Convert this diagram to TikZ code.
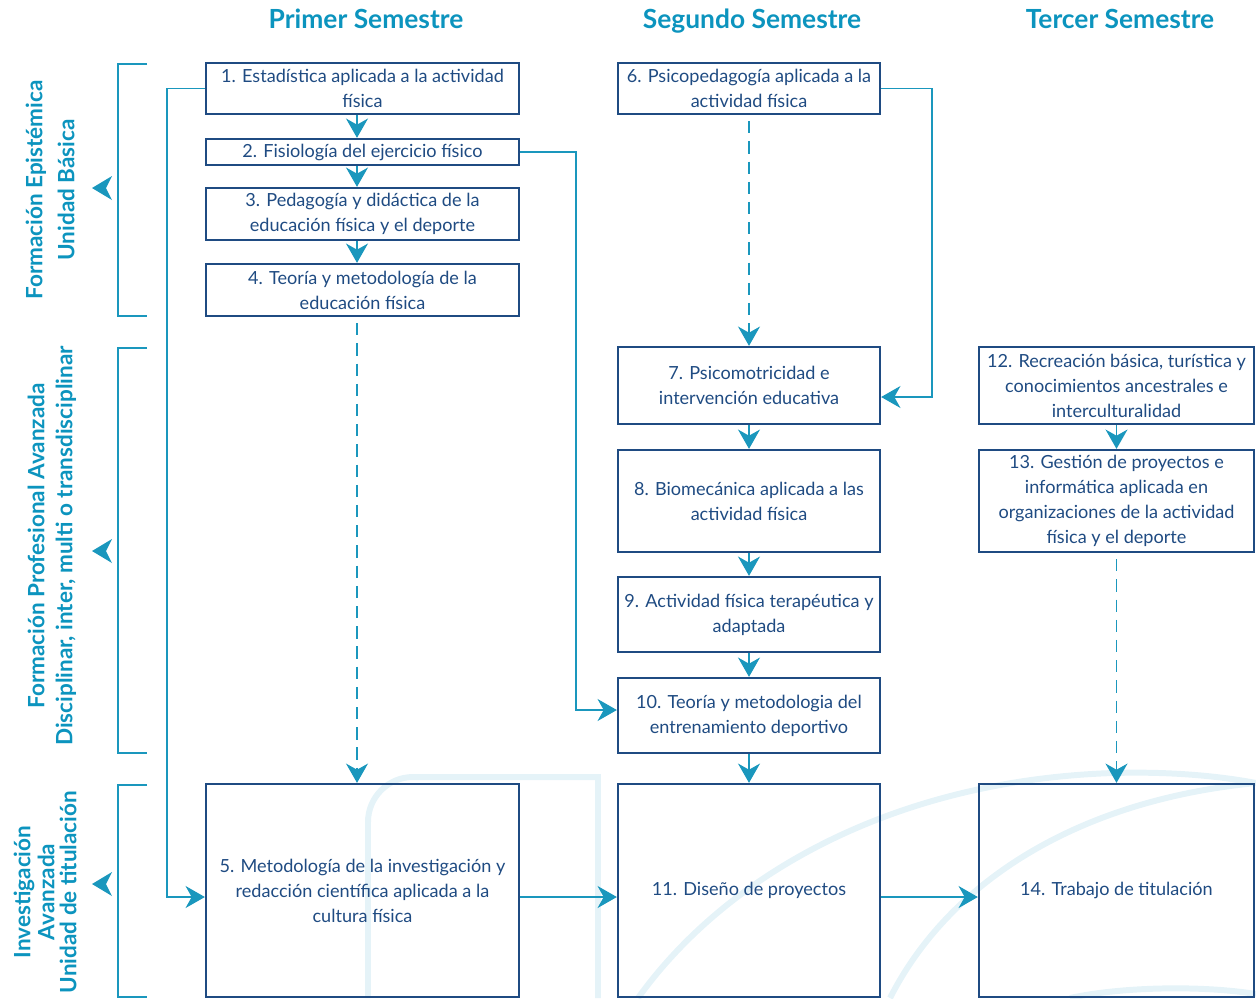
\documentclass[tikz,border=0pt]{standalone}
\usepackage{fontspec}
\setmainfont{Lato}
\usetikzlibrary{arrows.meta,calc}
\definecolor{navy}{HTML}{1F4B82}
\definecolor{tealc}{HTML}{1A97BD}
\definecolor{headc}{HTML}{0C94BE}
\definecolor{wmc}{HTML}{E5F3F8}
\begin{document}
\begin{tikzpicture}[x=0.02cm,y=-0.02cm,
  box/.style={draw=navy, line width=1.3pt, text=navy, align=center, inner sep=0pt,
    font=\fontsize{10.3}{14.2}\selectfont},
  conn/.style={draw=tealc, line width=0.9pt, -{Stealth[length=11pt,width=12.5pt,inset=3.5pt]}},
  dconn/.style={conn, dash pattern=on 7pt off 4.5pt},
  head/.style={text=headc, anchor=base, font=\bfseries\fontsize{15}{17}\selectfont},
  side/.style={text=headc, rotate=90, inner sep=0pt, font=\bfseries\fontsize{12.8}{14}\selectfont},
  brk/.style={draw=tealc, line width=1.1pt},
  wm/.style={draw=wmc, line width=3.4pt},
  tip/.style={fill=tealc}
]
\path[use as bounding box] (0,0) rectangle (1256,998);
% watermark
\draw[wm] (368,998) -- (368,822) arc[start angle=180,end angle=90,radius=0.9cm] -- (598,777) -- (598,998);
\draw[wm] (638,998) .. controls (730,870) and (900,780) .. (1113,773) .. controls (1180,771) and (1230,778) .. (1256,783);
\draw[wm] (890,998) .. controls (950,880) and (1080,800) .. (1256,783);
\draw[wm] (1070,998) .. controls (1120,987) and (1200,985) .. (1256,994);

% headings
\node[head] (h1) at (366,28) {Primer Semestre};
\node[head] (h2) at (752,28) {Segundo Semestre};
\node[head] (h3) at (1120,28) {Tercer Semestre};

% side labels
\node[side] (s1a) at (36,190) {Formación Epistémica};
\node[side] (s1b) at (66,190) {Unidad Básica};
\node[side] (s2a) at (36,546) {Formación Profesional Avanzada};
\node[side] (s2b) at (66,546) {Disciplinar, inter, multi o transdisciplinar};
\node[side] (s3a) at (24,892) {Investigación};
\node[side] (s3b) at (46,892) {Avanzada};
\node[side] (s3c) at (68,892) {Unidad de titulación};

% brackets
\draw[brk] (147,64) -- (118,64) -- (118,316) -- (147,316);
\draw[brk] (147,348) -- (118,348) -- (118,753) -- (147,753);
\draw[brk] (147,785) -- (118,785) -- (118,997) -- (147,997);
\fill[tip] (92,188) -- (112,176) -- (106,188) -- (112,200) -- cycle;
\fill[tip] (92,551) -- (112,539) -- (106,551) -- (112,563) -- cycle;
\fill[tip] (92,884) -- (112,872) -- (106,884) -- (112,896) -- cycle;

% column 1
\node[box, minimum width=6.26cm, minimum height=1.02cm] (b1) at (362.5,88.5) {1. Estadística aplicada a la actividad\\física};
\node[box, minimum width=6.26cm, minimum height=0.52cm] (b2) at (362.5,152) {2. Fisiología del ejercicio físico};
\node[box, minimum width=6.26cm, minimum height=1.04cm] (b3) at (362.5,214) {3. Pedagogía y didáctica de la\\educación física y el deporte};
\node[box, minimum width=6.26cm, minimum height=1.04cm] (b4) at (362.5,290) {4. Teoría y metodología de la\\educación física};
\node[box, minimum width=6.26cm, minimum height=4.26cm] (b5) at (362.5,890.5) {5. Metodología de la investigación y\\redacción científica aplicada a la\\cultura física};

% column 2
\node[box, minimum width=5.24cm, minimum height=1.02cm] (b6) at (749,88.5) {6. Psicopedagogía aplicada a la\\actividad física};
\node[box, minimum width=5.24cm, minimum height=1.54cm] (b7) at (749,385.5) {7. Psicomotricidad e\\intervención educativa};
\node[box, minimum width=5.24cm, minimum height=2.04cm] (b8) at (749,501) {8. Biomecánica aplicada a las\\actividad física};
\node[box, minimum width=5.24cm, minimum height=1.5cm] (b9) at (749,614.5) {9. Actividad física terapéutica y\\adaptada};
\node[box, minimum width=5.24cm, minimum height=1.5cm] (b10) at (749,715.5) {10. Teoría y metodologia del\\entrenamiento deportivo};
\node[box, minimum width=5.24cm, minimum height=4.26cm] (b11) at (749,890.5) {11. Diseño de proyectos};

% column 3
\node[box, minimum width=5.5cm, minimum height=1.54cm] (b12) at (1116.5,385.5) {12. Recreación básica, turística y\\conocimientos ancestrales e\\interculturalidad};
\node[box, minimum width=5.5cm, minimum height=2.04cm] (b13) at (1116.5,501) {13. Gestión de proyectos e\\informática aplicada en\\organizaciones de la actividad\\física y el deporte};
\node[box, minimum width=5.5cm, minimum height=4.26cm] (b14) at (1116.5,890.5) {14. Trabajo de titulación};

% connectors column 1
\draw[conn] ([xshift=-0.11cm]b1.south) -- ([xshift=-0.11cm]b2.north);
\draw[conn] ([xshift=-0.11cm]b2.south) -- ([xshift=-0.11cm]b3.north);
\draw[conn] ([xshift=-0.11cm]b3.south) -- ([xshift=-0.11cm]b4.north);
\draw[dconn] ([xshift=-0.11cm,yshift=-0.12cm]b4.south) -- ([xshift=-0.11cm]b5.north);
% column 2
\draw[dconn] ([yshift=-0.12cm]b6.south) -- (b7.north);
\draw[conn] (b7.south) -- (b8.north);
\draw[conn] (b8.south) -- (b9.north);
\draw[conn] (b9.south) -- (b10.north);
\draw[conn] (b10.south) -- (b11.north);
% column 3
\draw[conn] (b12.south) -- (b13.north);
\draw[dconn] ([yshift=-0.12cm]b13.south) -- (b14.north);
% horizontal
\draw[conn] ([yshift=-0.13cm]b5.east) -- ([yshift=-0.13cm]b11.west);
\draw[conn] ([yshift=-0.13cm]b11.east) -- ([yshift=-0.13cm]b14.west);
% side routes
\draw[conn] (b1.west) -- ++(-38,0) |- ([yshift=-0.13cm]b5.west);
\draw[conn] (b2.east) -- ++(56,0) |- ([yshift=0.11cm]b10.west);
\draw[conn] (b6.east) -- ++(51,0) |- ([yshift=-0.23cm]b7.east);
\end{tikzpicture}
\end{document}
